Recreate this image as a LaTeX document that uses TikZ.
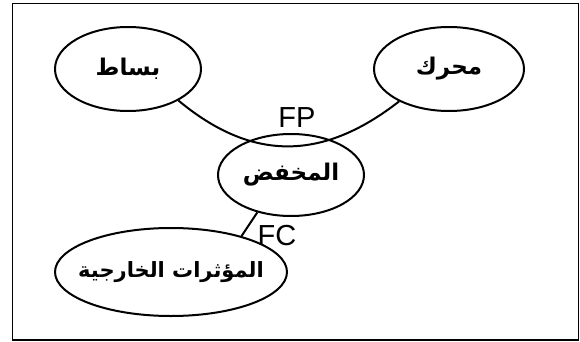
\documentclass[tikz,border=0pt]{standalone}
\usepackage{fontspec}
\setmainfont{Liberation Sans}
\newfontfamily\arabicfont[Script=Arabic]{DejaVu Sans}
\TeXXeTstate=1
\usetikzlibrary{shapes.geometric}
\tikzset{
  oval/.style={ellipse, draw=black, line width=2pt, inner sep=0pt},
  word/.style={inner sep=0pt, font=\arabicfont\bfseries\fontsize{23}{25}\selectfont},
  smallword/.style={word, font=\arabicfont\bfseries\fontsize{21}{23}\selectfont},
  link/.style={draw=black, line width=2pt},
  lbl/.style={inner sep=0pt, font=\fontsize{29}{31}\selectfont}
}
\begin{document}
\begin{tikzpicture}[x=1pt,y=-1pt]
\useasboundingbox (0,0) rectangle (580,342);
\draw[line width=1.6pt, draw=black] (12.5,3.5) rectangle (578.5,340);
\node[oval, minimum width=146pt, minimum height=84pt] (bsat) at (128,69) {};
\node[word] (bsatt) at (bsat.center) {\beginR بساط\endR};
\node[oval, minimum width=150pt, minimum height=84pt] (mhrk) at (449,69) {};
\node[word] (mhrkt) at (mhrk.center) {\beginR محرك\endR};
\node[oval, minimum width=146pt, minimum height=82pt] (mid) at (291,175) {};
\node[word] (midt) at (mid.center) {\beginR المخفض\endR};
\node[oval, minimum width=232pt, minimum height=88pt] (outer) at (171,272) {};
\node[smallword] (outert) at (outer.center) {\beginR المؤثرات الخارجية\endR};
\draw[link] (bsat.-32) .. controls (250,160) and (320,163) .. (mhrk.-147);
\draw[link] (mid.-132) -- (outer.27);
\node[lbl] (fp) at (297,118) {FP};
\node[lbl] (fc) at (277,236) {FC};
\end{tikzpicture}
\end{document}
